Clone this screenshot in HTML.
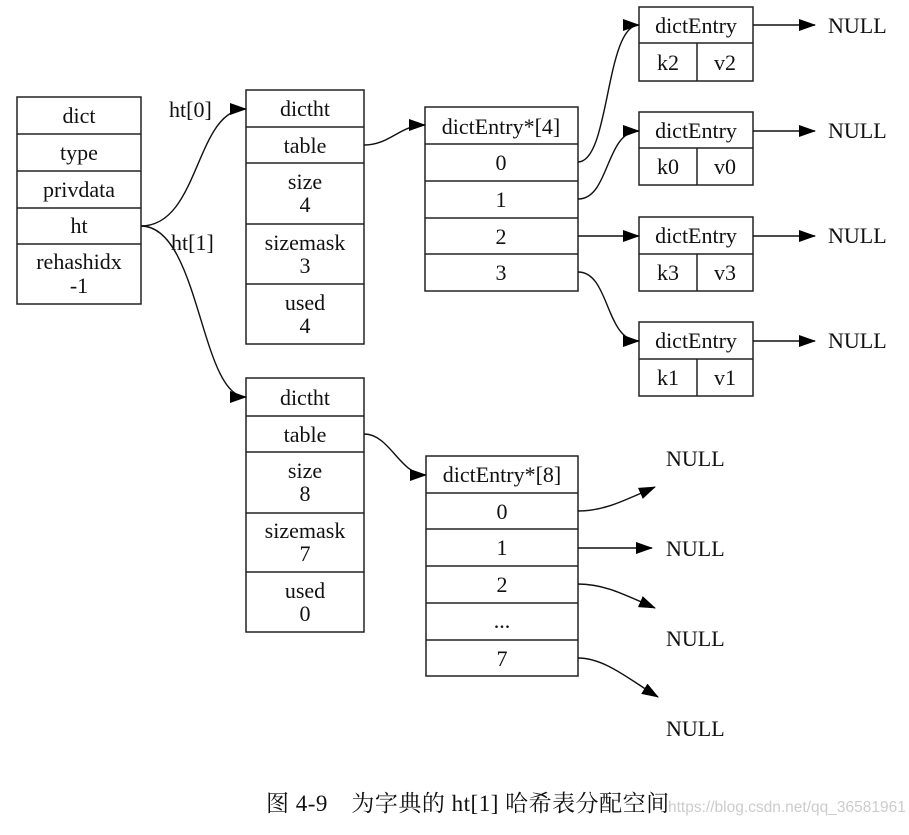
<!DOCTYPE html>
<html><head><meta charset="utf-8"><style>
body{margin:0;background:#fff;}
svg text{font-family:"Liberation Serif","Noto Serif CJK SC",serif;font-size:22px;fill:#111;}
</style></head><body>
<svg width="909" height="830" viewBox="0 0 909 830" xmlns="http://www.w3.org/2000/svg">
<defs><marker id="a" markerWidth="17" markerHeight="12" refX="16" refY="6" orient="auto" markerUnits="userSpaceOnUse"><path d="M0,0 L17,6 L0,12 z" fill="#000"/></marker></defs>
<g fill="none" stroke="#222" stroke-width="1.5">
<rect x="17" y="97" width="124" height="207"/>
<path d="M17 134H141M17 171H141M17 208H141M17 244H141"/>
<rect x="246" y="90" width="118" height="254"/>
<path d="M246 127H364M246 163H364M246 224H364M246 284H364"/>
<rect x="425" y="107" width="153" height="184"/>
<path d="M425 144H578M425 181H578M425 218H578M425 254H578"/>
<rect x="639" y="7" width="114" height="74"/><path d="M639 43H753M697 43V81"/>
<rect x="639" y="112" width="114" height="73"/><path d="M639 148H753M697 148V185"/>
<rect x="639" y="217" width="114" height="74"/><path d="M639 254H753M697 254V291"/>
<rect x="639" y="322" width="114" height="74"/><path d="M639 359H753M697 359V396"/>
<rect x="246" y="378" width="118" height="254"/>
<path d="M246 416H364M246 452H364M246 513H364M246 572H364"/>
<rect x="426" y="456" width="152" height="220"/>
<path d="M426 493H578M426 529H578M426 566H578M426 603H578M426 640H578"/>
</g>
<g fill="none" stroke="#111" stroke-width="1.4" marker-end="url(#a)">
<path d="M141 226C200 226 195 109 246 109"/>
<path d="M141 226C200 226 200 397 246 397"/>
<path d="M364 145C390 145 400 125 425 125"/>
<path d="M578 162C610 162 605 25 639 25"/>
<path d="M578 199C610 199 605 131 639 131"/>
<path d="M578 236H639"/>
<path d="M578 272C610 272 605 341 639 341"/>
<path d="M753 25H815"/><path d="M753 131H815"/><path d="M753 236H815"/><path d="M753 341H815"/>
<path d="M364 434C390 434 400 475 426 475"/>
<path d="M578 511C605 511 625 500 655 487"/>
<path d="M578 548H652"/>
<path d="M578 584C605 584 625 595 655 608"/>
<path d="M578 658C605 658 630 680 658 697"/>
</g>
<g text-anchor="middle">
<text x="79" y="123">dict</text><text x="79" y="160">type</text><text x="79" y="197">privdata</text><text x="79" y="233">ht</text>
<text x="79" y="269">rehashidx</text><text x="79" y="293">-1</text>
<text x="305" y="116">dictht</text><text x="305" y="153">table</text><text x="305" y="189">size</text><text x="305" y="212">4</text>
<text x="305" y="250">sizemask</text><text x="305" y="273">3</text><text x="305" y="310">used</text><text x="305" y="333">4</text>
<text x="501" y="134">dictEntry*[4]</text><text x="501" y="170">0</text><text x="501" y="207">1</text><text x="501" y="244">2</text><text x="501" y="280">3</text>
<text x="696" y="33">dictEntry</text><text x="668" y="70">k2</text><text x="725" y="70">v2</text>
<text x="696" y="138">dictEntry</text><text x="668" y="174">k0</text><text x="725" y="174">v0</text>
<text x="696" y="243">dictEntry</text><text x="668" y="280">k3</text><text x="725" y="280">v3</text>
<text x="696" y="348">dictEntry</text><text x="668" y="385">k1</text><text x="725" y="385">v1</text>
<text x="305" y="405">dictht</text><text x="305" y="442">table</text><text x="305" y="478">size</text><text x="305" y="501">8</text>
<text x="305" y="538">sizemask</text><text x="305" y="561">7</text><text x="305" y="598">used</text><text x="305" y="621">0</text>
<text x="502" y="482">dictEntry*[8]</text><text x="502" y="519">0</text><text x="502" y="555">1</text><text x="502" y="592">2</text>
<text x="502" y="628">...</text><text x="502" y="666">7</text>
</g>
<text x="828" y="33">NULL</text><text x="828" y="138">NULL</text><text x="828" y="243">NULL</text><text x="828" y="348">NULL</text>
<text x="666" y="466">NULL</text><text x="666" y="556">NULL</text><text x="666" y="646">NULL</text><text x="666" y="736">NULL</text>
<text x="169" y="117">ht[0]</text><text x="171" y="250">ht[1]</text>
<text x="266" y="811" style="font-size:23px;letter-spacing:0.5px">图 4-9　为字典的 ht[1] 哈希表分配空间</text>
<text x="668" y="812" style="font-size:15.5px;fill:#ccc;font-family:'Liberation Sans',sans-serif">https://blog.csdn.net/qq_36581961</text>
</svg>
</body></html>
